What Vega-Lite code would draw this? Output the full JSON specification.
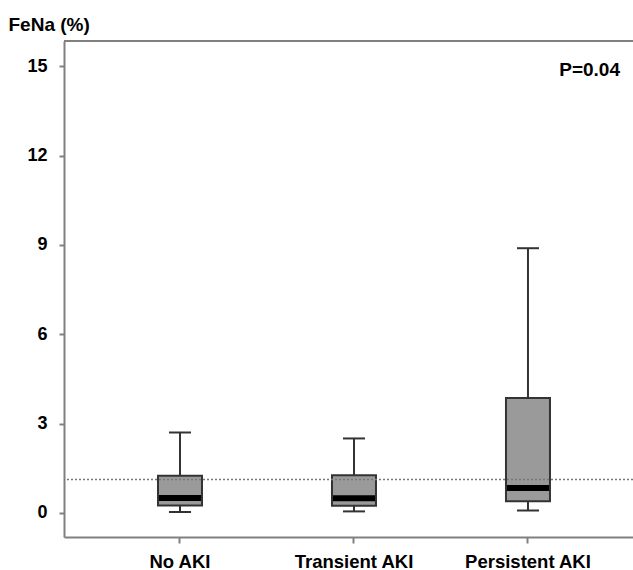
{
  "$schema": "https://vega.github.io/schema/vega-lite/v6.json",
  "width": 569,
  "height": 496,
  "autosize": "none",
  "padding": {"left": 64, "top": 41, "right": 0, "bottom": 33},
  "background": "white",
  "config": {
    "view": {"stroke": null},
    "font": "Liberation Sans",
    "axis": {"grid": false}
  },
  "data": {
    "values": [
      {"group": "No AKI", "low": 0.03, "q1": 0.25, "median": 0.5, "q3": 1.25, "high": 2.7},
      {"group": "Transient AKI", "low": 0.05, "q1": 0.24, "median": 0.49, "q3": 1.26, "high": 2.5},
      {"group": "Persistent AKI", "low": 0.08, "q1": 0.39, "median": 0.84, "q3": 3.86, "high": 8.89}
    ]
  },
  "encoding": {
    "x": {
      "field": "group",
      "type": "nominal",
      "sort": ["No AKI", "Transient AKI", "Persistent AKI"],
      "scale": {"type": "band", "paddingInner": 0.747, "paddingOuter": 0.5086, "align": 0.531},
      "axis": {
        "title": null,
        "labelAngle": 0,
        "labelFontSize": 18.5,
        "labelFontWeight": "bold",
        "labelColor": "black",
        "labelPadding": 9,
        "tickSize": 6,
        "tickColor": "#808080",
        "tickWidth": 2,
        "domainColor": "#808080",
        "domainWidth": 2
      }
    }
  },
  "layer": [
    {
      "mark": {"type": "rule", "color": "#333333", "strokeWidth": 2},
      "encoding": {
        "y": {
          "field": "low",
          "type": "quantitative",
          "scale": {"domain": [-0.81, 15.85], "nice": false, "zero": false},
          "axis": {
            "values": [0, 3, 6, 9, 12, 15],
            "title": "FeNa (%)",
            "titleAngle": 0,
            "titleAlign": "left",
            "titleBaseline": "alphabetic",
            "titleX": -56,
            "titleY": -10.6,
            "titleFontSize": 19,
            "titleFontWeight": "bold",
            "titleColor": "black",
            "labelFontSize": 18,
            "labelFontWeight": "bold",
            "labelColor": "black",
            "labelPadding": 12,
            "tickSize": 5,
            "tickColor": "#808080",
            "tickWidth": 2,
            "domainColor": "#808080",
            "domainWidth": 2
          }
        },
        "y2": {"field": "high"}
      }
    },
    {
      "mark": {"type": "bar", "size": 44, "fill": "#9a9a9a", "stroke": "#333333", "strokeWidth": 2},
      "encoding": {
        "y": {"field": "q1", "type": "quantitative"},
        "y2": {"field": "q3"}
      }
    },
    {
      "mark": {"type": "tick", "color": "black", "thickness": 6, "size": 42, "opacity": 1},
      "encoding": {"y": {"field": "median", "type": "quantitative"}}
    },
    {
      "mark": {"type": "tick", "color": "#333333", "thickness": 2, "size": 22, "opacity": 1},
      "encoding": {"y": {"field": "low", "type": "quantitative"}}
    },
    {
      "mark": {"type": "tick", "color": "#333333", "thickness": 2, "size": 22, "opacity": 1},
      "encoding": {"y": {"field": "high", "type": "quantitative"}}
    },
    {
      "data": {"values": [{"ref": 1.12}]},
      "mark": {"type": "rule", "color": "#777777", "strokeWidth": 1.5, "strokeDash": [2, 2]},
      "encoding": {"x": null, "y": {"field": "ref", "type": "quantitative"}}
    },
    {
      "data": {"values": [{"top": 15.85}]},
      "mark": {"type": "rule", "color": "#808080", "strokeWidth": 2},
      "encoding": {"x": null, "y": {"field": "top", "type": "quantitative"}}
    },
    {
      "data": {"values": [{"group": "Persistent AKI", "yv": 14.89, "label": "P=0.04"}]},
      "mark": {"type": "text", "align": "right", "baseline": "middle", "dx": 92, "fontSize": 19, "fontWeight": "bold", "color": "black"},
      "encoding": {
        "y": {"field": "yv", "type": "quantitative"},
        "text": {"field": "label"}
      }
    }
  ]
}
